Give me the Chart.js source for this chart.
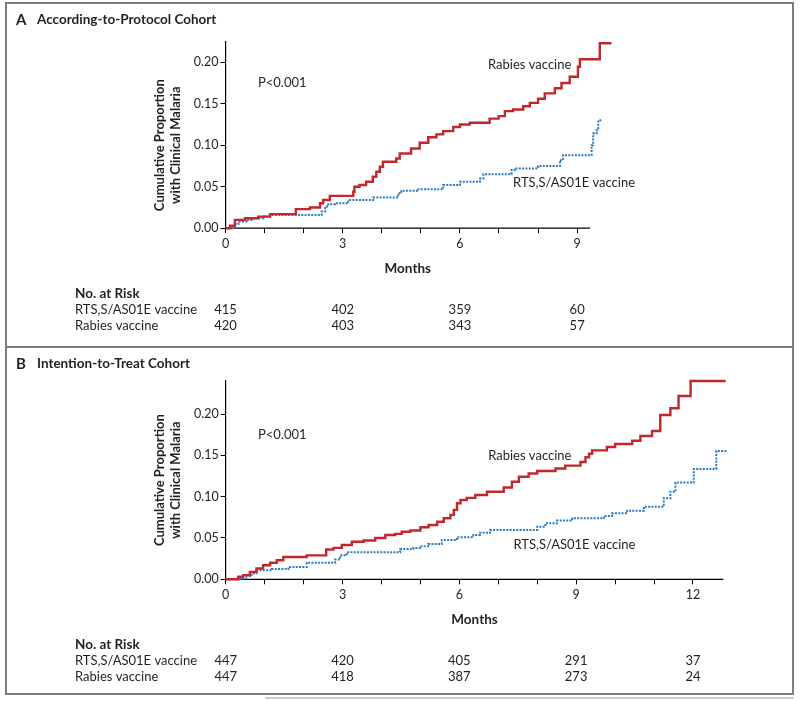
<!DOCTYPE html>
<html>
<head>
<meta charset="utf-8">
<script src="https://cdn.jsdelivr.net/npm/chart.js@4.4.1/dist/chart.umd.min.js"></script>
<style>
  body { margin: 0; background: #fff; }
  #page { position: relative; width: 800px; height: 701px; overflow: hidden; background: #fff; }
  canvas { position: absolute; left: 0; }
  #frame { position: absolute; left: 5px; top: 2px; width: 789px; height: 693px; box-sizing: border-box; border: 2px solid #7d7d7d; }
  #divider { position: absolute; left: 5px; top: 346px; width: 789px; height: 2px; background: #7d7d7d; }
  #shadow { position: absolute; left: 265px; top: 697px; width: 529px; height: 2px; background: #c8c8c8; }
</style>
</head>
<body>
<div id="page">
  <canvas id="chartA" width="800" height="347" style="top:0"></canvas>
  <canvas id="chartB" width="800" height="354" style="top:347px"></canvas>
  <div id="frame"></div>
  <div id="divider"></div>
  <div id="shadow"></div>
</div>
<script>
// months at which the number at risk is given
const riskMonthsA = [0, 3, 6, 9];
const riskMonthsB = [0, 3, 6, 9, 12];
const riskRtsA = [415, 402, 359, 60];
const riskRabiesA = [420, 403, 343, 57];
const riskRtsB = [447, 420, 405, 291, 37];
const riskRabiesB = [447, 418, 387, 273, 24];

// [month, cumulative proportion]
const rabiesA = [[0,0],[0.12,0.003],[0.24,0.010],[0.50,0.012],[0.84,0.014],[1.14,0.017],[1.8,0.023],[2.16,0.025],
  [2.42,0.030],[2.5,0.034],[2.67,0.039],[3.27,0.044],[3.3,0.050],[3.43,0.052],[3.6,0.056],[3.77,0.062],[3.86,0.068],
  [3.95,0.074],[4.03,0.080],[4.37,0.084],[4.46,0.090],[4.75,0.096],[4.97,0.103],[5.19,0.1095],[5.4,0.113],[5.57,0.117],
  [5.83,0.122],[6.0,0.125],[6.25,0.127],[6.76,0.132],[6.99,0.135],[7.15,0.141],[7.36,0.143],[7.62,0.147],[7.79,0.151],
  [8.0,0.156],[8.17,0.1625],[8.43,0.1686],[8.6,0.175],[8.81,0.1825],[9.02,0.1946],[9.07,0.2035],[9.58,0.2228],[9.88,0.2228]];
const rtsA = [[0,0],[0.24,0.005],[0.33,0.008],[0.54,0.010],[0.71,0.012],[0.97,0.014],[1.14,0.016],[2.46,0.020],
  [2.55,0.026],[2.63,0.029],[2.8,0.030],[3.14,0.034],[3.78,0.037],[4.42,0.042],[4.5,0.045],[4.9,0.047],[5.57,0.052],
  [6.0,0.056],[6.51,0.060],[6.6,0.065],[7.32,0.070],[7.4,0.072],[8.0,0.075],[8.56,0.082],[8.64,0.088],[9.37,0.100],
  [9.41,0.114],[9.5,0.118],[9.54,0.130],[9.62,0.130]];
const rabiesB = [[0,0],[0.32,0.003],[0.45,0.005],[0.62,0.009],[0.79,0.013],[0.96,0.017],[1.14,0.020],[1.31,0.023],
  [1.48,0.027],[2.08,0.029],[2.58,0.036],[2.77,0.038],[2.98,0.0415],[3.24,0.0455],[3.54,0.047],[3.84,0.050],[4.1,0.0536],
  [4.35,0.055],[4.52,0.0576],[4.74,0.059],[5.0,0.063],[5.21,0.0657],[5.43,0.0697],[5.6,0.0738],[5.77,0.078],[5.86,0.084],
  [5.94,0.092],[6.03,0.096],[6.19,0.0985],[6.41,0.102],[6.71,0.106],[7.14,0.111],[7.35,0.118],[7.53,0.124],[7.78,0.128],
  [8.0,0.131],[8.47,0.134],[8.72,0.1375],[9.11,0.142],[9.24,0.1476],[9.33,0.152],[9.41,0.156],[9.79,0.160],[10.0,0.1637],
  [10.44,0.1677],[10.65,0.1734],[10.95,0.1794],[11.16,0.1988],[11.42,0.207],[11.63,0.2218],[11.94,0.240],[12.84,0.240]];
const rtsB = [[0,0],[0.41,0.001],[0.54,0.004],[0.67,0.007],[0.79,0.011],[1.18,0.0125],[1.61,0.015],[2.08,0.020],
  [2.81,0.024],[2.94,0.029],[3.11,0.0327],[4.48,0.0367],[4.82,0.038],[4.99,0.040],[5.2,0.0426],[5.55,0.0475],[5.94,0.051],
  [6.36,0.0536],[6.53,0.0564],[6.79,0.0597],[8.0,0.0637],[8.21,0.0677],[8.51,0.071],[8.9,0.0738],[9.71,0.0766],[9.92,0.080],
  [10.31,0.083],[10.74,0.0878],[11.25,0.098],[11.42,0.106],[11.55,0.117],[12.02,0.1335],[12.6,0.1552],[12.88,0.1552]];

const TEXT = '#231f20';
const RED = '#c1272d';
const BLUE = '#2a7cc2';
const FONT = 'Lato';

// x axis line stops short of the last flat stretch of the curves, as in the figure
const axisLine = {
  id: 'axisLine',
  beforeDatasetsDraw(chart, args, o) {
    const ctx = chart.ctx, xs = chart.scales.x, area = chart.chartArea;
    ctx.save();
    ctx.strokeStyle = '#000';
    ctx.lineWidth = 1.2;
    ctx.beginPath();
    ctx.moveTo(area.left - 0.6, area.bottom);
    ctx.lineTo(xs.getPixelForValue(o.end), area.bottom);
    ctx.stroke();
    ctx.restore();
  }
};

const panelText = {
  id: 'panelText',
  afterDraw(chart, args, o) {
    const ctx = chart.ctx, xs = chart.scales.x, ys = chart.scales.y, area = chart.chartArea;
    ctx.save();
    ctx.fillStyle = TEXT;
    ctx.textBaseline = 'middle';
    ctx.textAlign = 'left';
    ctx.font = `bold 15px ${FONT}`;
    ctx.fillText(o.letter, 16, o.headY);
    ctx.font = `bold 13.5px ${FONT}`;
    ctx.fillText(o.heading, 37, o.headY);

    // rotated y title, two lines
    ctx.save();
    ctx.translate(area.left - 58, ys.getPixelForValue(o.yTitleMid));
    ctx.rotate(-Math.PI / 2);
    ctx.textAlign = 'center';
    ctx.font = `bold 13px ${FONT}`;
    ctx.fillText('Cumulative Proportion', 0, -8);
    ctx.fillText('with Clinical Malaria', 0, 8);
    ctx.restore();

    // x title centred under the drawn axis line
    ctx.textAlign = 'center';
    ctx.font = `bold 13.5px ${FONT}`;
    ctx.fillText('Months', (xs.getPixelForValue(0) + xs.getPixelForValue(o.axisEnd)) / 2, area.bottom + 40);

    ctx.textAlign = 'left';
    ctx.font = `13px ${FONT}`;
    o.notes.forEach(n => {
      ctx.fillText(n.text, xs.getPixelForValue(n.x), ys.getPixelForValue(n.y));
    });

    // number at risk table
    const base = area.bottom;
    ctx.font = `bold 13.5px ${FONT}`;
    ctx.fillText('No. at Risk', 75, base + 65);
    ctx.font = `13px ${FONT}`;
    o.rows.forEach((r, i) => {
      const yy = base + 82 + i * 16;
      ctx.textAlign = 'left';
      ctx.fillText(r.name, 75, yy);
      ctx.textAlign = 'center';
      r.values.forEach((v, j) => ctx.fillText(String(v), xs.getPixelForValue(o.months[j]), yy));
    });
    ctx.restore();
  }
};

function series(label, pts, color, dotted) {
  return {
    label,
    data: pts.map(([x, y]) => ({ x, y })),
    borderColor: color,
    borderWidth: dotted ? 2 : 2.4,
    borderDash: dotted ? [2, 1.3] : [],
    borderCapStyle: 'butt',
    borderJoinStyle: 'miter',
    stepped: true,
    pointRadius: 0,
    fill: false,
    clip: false
  };
}

function makeChart(id, p) {
  return new Chart(document.getElementById(id), {
    type: 'line',
    data: {
      datasets: [series('Rabies vaccine', p.red, RED, false), series('RTS,S/AS01E vaccine', p.blue, BLUE, true)]
    },
    options: {
      responsive: false,
      animation: false,
      events: [],
      layout: { autoPadding: false, padding: p.padding },
      plugins: {
        legend: { display: false },
        tooltip: { enabled: false },
        axisLine: { end: p.axisEnd },
        panelText: Object.assign({ axisEnd: p.axisEnd }, p.text)
      },
      scales: {
        x: {
          type: 'linear', min: 0, max: p.xMax,
          afterFit: s => { s.height = 48; },
          border: { display: false },
          grid: { drawOnChartArea: false, drawTicks: true, tickLength: 5, color: '#000', lineWidth: 1 },
          ticks: {
            stepSize: 1, includeBounds: false, autoSkip: false, maxRotation: 0, padding: 3,
            color: TEXT, font: { family: FONT, size: 12.5 },
            callback: v => (v % 3 === 0 ? String(v) : '')
          }
        },
        y: {
          type: 'linear', min: 0, max: p.yMax,
          afterFit: s => { s.width = 60; },
          border: { display: true, color: '#000', width: 1.2 },
          grid: { drawOnChartArea: false, drawTicks: true, tickLength: 5, color: '#000', lineWidth: 1 },
          ticks: {
            stepSize: 0.05, includeBounds: false, padding: 2,
            color: TEXT, font: { family: FONT, size: 12.5 },
            callback: v => v.toFixed(2)
          }
        }
      }
    },
    plugins: [axisLine, panelText]
  });
}

makeChart('chartA', {
  red: rabiesA, blue: rtsA, xMax: 9.9, axisEnd: 9.33, yMax: 0.2247,
  padding: { left: 165.5, right: 187.7, top: 41.7, bottom: 70.8 },
  text: {
    letter: 'A', heading: 'According-to-Protocol Cohort', headY: 20, yTitleMid: 0.10,
    notes: [
      { text: 'P<0.001', x: 0.83, y: 0.175 },
      { text: 'Rabies vaccine', x: 6.72, y: 0.197 },
      { text: 'RTS,S/AS01E vaccine', x: 7.36, y: 0.0545 }
    ],
    months: riskMonthsA,
    rows: [{ name: 'RTS,S/AS01E vaccine', values: riskRtsA }, { name: 'Rabies vaccine', values: riskRabiesA }]
  }
});

makeChart('chartB', {
  red: rabiesB, blue: rtsB, xMax: 12.9, axisEnd: 12.78, yMax: 0.2403,
  padding: { left: 165.7, right: 72, top: 33.7, bottom: 73.7 },
  text: {
    letter: 'B', heading: 'Intention-to-Treat Cohort', headY: 17, yTitleMid: 0.12,
    notes: [
      { text: 'P<0.001', x: 0.83, y: 0.1746 },
      { text: 'Rabies vaccine', x: 6.74, y: 0.150 },
      { text: 'RTS,S/AS01E vaccine', x: 7.39, y: 0.0415 }
    ],
    months: riskMonthsB,
    rows: [{ name: 'RTS,S/AS01E vaccine', values: riskRtsB }, { name: 'Rabies vaccine', values: riskRabiesB }]
  }
});
</script>
</body>
</html>
